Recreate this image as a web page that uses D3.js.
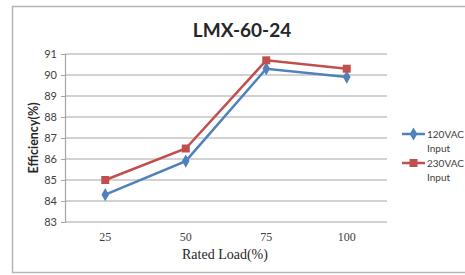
<!DOCTYPE html>
<html>
<head>
<meta charset="utf-8">
<script src="https://cdn.jsdelivr.net/npm/d3@7"></script>
<style>
  body { margin: 0; background: #fff; }
  svg { display: block; }
</style>
</head>
<body>
<svg id="chart" width="465" height="275"></svg>
<script>
// chart data
var loads = ["25", "50", "75", "100"];
var eff120 = [84.3, 85.9, 90.3, 89.9];
var eff230 = [85.0, 86.5, 90.7, 90.3];
var yTicks = [83, 84, 85, 86, 87, 88, 89, 90, 91];
var seriesNames = [["120VAC", "Input"], ["230VAC", "Input"]];

var blue = "#4f81bd", red = "#c0504d";

var svg = d3.select("#chart");

// outer frame
svg.append("rect")
    .attr("x", 12.5).attr("y", 6.5)
    .attr("width", 470).attr("height", 266)
    .attr("fill", "none")
    .attr("stroke", "#b4b4b4")
    .attr("stroke-width", 1.5);

var margin = { left: 65, top: 54, right: 387, bottom: 222 };

var x = d3.scaleBand()
    .domain(loads)
    .range([margin.left, margin.right]);

var y = d3.scaleLinear()
    .domain([83, 91])
    .range([margin.bottom, margin.top]);

// gridlines
svg.append("g")
    .selectAll("line")
    .data(yTicks)
    .enter()
    .append("line")
    .attr("x1", margin.left).attr("x2", margin.right)
    .attr("y1", d => y(d)).attr("y2", d => y(d))
    .attr("stroke", "#a6a6a6")
    .attr("stroke-width", 1.2);

// y axis
var yAxis = d3.axisLeft(y).tickValues(yTicks).tickSize(4).tickPadding(4);
var gy = svg.append("g")
    .attr("transform", "translate(" + margin.left + ",0)")
    .call(yAxis);
gy.select(".domain").attr("stroke", "#a6a6a6").attr("stroke-width", 1.2);
gy.selectAll(".tick line").attr("stroke", "#a6a6a6");
gy.selectAll(".tick text")
    .attr("fill", "#404040")
    .style("font-family", "Lato, 'Open Sans', sans-serif")
    .style("font-size", "11px");

// x axis labels
var xAxis = d3.axisBottom(x).tickSize(0).tickPadding(10);
var gx = svg.append("g")
    .attr("transform", "translate(0," + margin.bottom + ")")
    .call(xAxis);
gx.select(".domain").remove();
gx.selectAll(".tick text")
    .attr("fill", "#404040")
    .style("font-family", "'Liberation Serif', serif")
    .style("font-size", "12px");

// axis titles
svg.append("text")
    .attr("x", 225).attr("y", 259)
    .attr("text-anchor", "middle")
    .attr("fill", "#262626")
    .style("font-family", "'Liberation Serif', serif")
    .style("font-size", "14px")
    .text("Rated Load(%)");

svg.append("text")
    .attr("transform", "translate(38,138) rotate(-90)")
    .attr("text-anchor", "middle")
    .attr("fill", "#262626")
    .style("font-family", "Lato, sans-serif")
    .style("font-weight", "bold")
    .style("font-size", "12.5px")
    .text("Efficiency(%)");

// title
svg.append("text")
    .attr("x", 242).attr("y", 37)
    .attr("text-anchor", "middle")
    .attr("fill", "#262626")
    .style("font-family", "Lato, sans-serif")
    .style("font-weight", "bold")
    .style("font-size", "19px")
    .text("LMX-60-24");

var line = d3.line()
    .x((d, i) => x(loads[i]) + x.bandwidth() / 2)
    .y(d => y(d));

function drawSeries(vals, color, shape) {
    svg.append("path")
        .datum(vals)
        .attr("d", line)
        .attr("fill", "none")
        .attr("stroke", color)
        .attr("stroke-width", 2.5);
    svg.append("g")
        .selectAll("path")
        .data(vals)
        .enter()
        .append("path")
        .attr("transform", (d, i) => "translate(" + (x(loads[i]) + x.bandwidth() / 2) + "," + y(d) + ")")
        .attr("d", d3.symbol().type(shape).size(shape === d3.symbolSquare ? 64 : 50))
        .attr("fill", color);
}

drawSeries(eff120, blue, d3.symbolDiamond);
drawSeries(eff230, red, d3.symbolSquare);

// legend
var legend = svg.append("g");
var legendY = [134, 163];
[blue, red].forEach(function (c, i) {
    var g = legend.append("g").attr("transform", "translate(0," + legendY[i] + ")");
    g.append("line")
        .attr("x1", 402).attr("x2", 425)
        .attr("stroke", c).attr("stroke-width", 2.5);
    g.append("path")
        .attr("transform", "translate(413.5,0)")
        .attr("d", d3.symbol().type(i === 0 ? d3.symbolDiamond : d3.symbolSquare).size(i === 0 ? 50 : 64))
        .attr("fill", c);
    g.append("text")
        .attr("x", 427).attr("y", 4)
        .attr("fill", "#404040")
        .style("font-family", "Lato, sans-serif")
        .style("font-size", "10px")
        .text(seriesNames[i][0]);
    g.append("text")
        .attr("x", 427).attr("y", 18)
        .attr("fill", "#404040")
        .style("font-family", "Lato, sans-serif")
        .style("font-size", "10px")
        .text(seriesNames[i][1]);
});
</script>
</body>
</html>
